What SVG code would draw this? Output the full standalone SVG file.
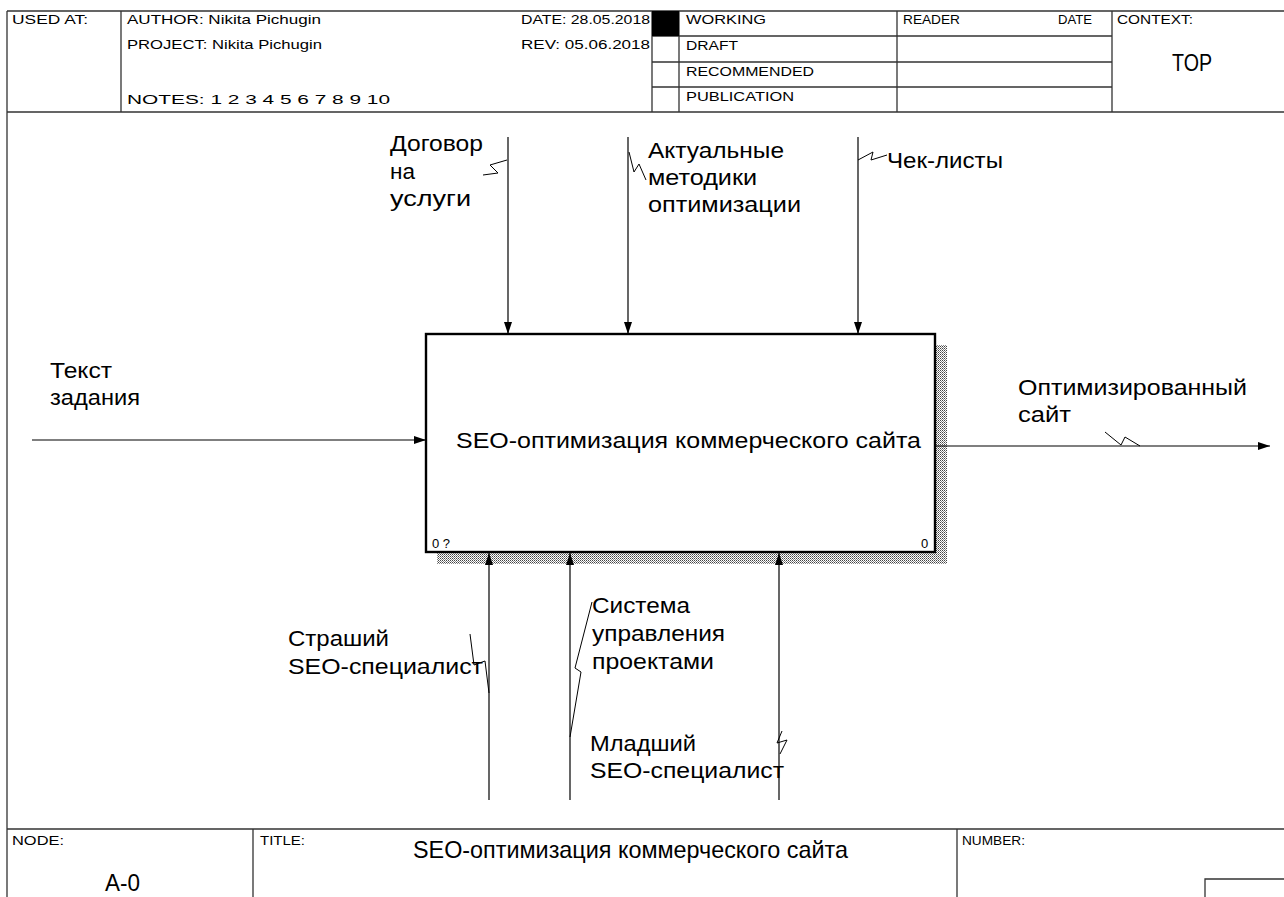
<svg xmlns="http://www.w3.org/2000/svg" width="1284" height="897" viewBox="0 0 1284 897">
  <style>
    .frame { fill: none; stroke: #333; stroke-width: 1.3; }
    .hdr { font-family: "Liberation Sans", Arial, sans-serif; font-size: 13px; fill: #000; }
    .lbl { font-family: "Liberation Sans", Arial, sans-serif; font-size: 22.5px; fill: #000; }
    .big { font-family: "Liberation Sans", Arial, sans-serif; font-size: 24px; fill: #000; }
    .num { font-family: "Liberation Sans", Arial, sans-serif; font-size: 13px; fill: #000; }
    .arrow { fill: none; stroke: #000; stroke-width: 1.2; }
    .sq { fill: none; stroke: #000; stroke-width: 1; }
    .box { fill: #fff; stroke: #000; stroke-width: 2.4; }
  </style>
  <defs>
    <marker id="ah" viewBox="0 0 12 8" refX="12" refY="4" markerWidth="12" markerHeight="8" markerUnits="userSpaceOnUse" orient="auto">
      <path d="M0,0 L12,4 L0,8 Z" fill="#000"/>
    </marker>
    <pattern id="dots" width="2" height="2" patternUnits="userSpaceOnUse">
      <rect width="2" height="2" fill="#fff"/>
      <rect width="1" height="1" fill="#444"/>
      <rect x="1" y="1" width="1" height="1" fill="#888"/>
    </pattern>
  </defs>

  <rect width="1284" height="897" fill="#fff"/>

  <!-- Header form -->
  <g id="header">
    <path class="frame" d="M7,11 H1290 M7,11 V897 M121,11 V112 M652,11 V112 M679,11 V112 M897,11 V112 M1112,11 V112 M7,112 H1290 M679,36 H1112 M652,36 H679 M652,62 H1112 M652,87 H1112"/>
    <rect x="652" y="11" width="27" height="25" fill="#000"/>
    <text class="hdr" x="12" y="24" textLength="76" lengthAdjust="spacingAndGlyphs">USED AT:</text>
    <text class="hdr" x="127" y="24" textLength="194" lengthAdjust="spacingAndGlyphs">AUTHOR:  Nikita Pichugin</text>
    <text class="hdr" x="127" y="49" textLength="195" lengthAdjust="spacingAndGlyphs">PROJECT:    Nikita Pichugin</text>
    <text class="hdr" x="127" y="104" textLength="263" lengthAdjust="spacingAndGlyphs">NOTES:  1  2  3  4  5  6  7  8  9  10</text>
    <text class="hdr" x="521" y="24" textLength="129" lengthAdjust="spacingAndGlyphs">DATE: 28.05.2018</text>
    <text class="hdr" x="521" y="49" textLength="129" lengthAdjust="spacingAndGlyphs">REV:  05.06.2018</text>
    <text class="hdr" x="686" y="24" textLength="80" lengthAdjust="spacingAndGlyphs">WORKING</text>
    <text class="hdr" x="686" y="50" textLength="52" lengthAdjust="spacingAndGlyphs">DRAFT</text>
    <text class="hdr" x="686" y="76" textLength="128" lengthAdjust="spacingAndGlyphs">RECOMMENDED</text>
    <text class="hdr" x="686" y="101" textLength="108" lengthAdjust="spacingAndGlyphs">PUBLICATION</text>
    <text class="hdr" x="903" y="24" textLength="57" lengthAdjust="spacingAndGlyphs">READER</text>
    <text class="hdr" x="1058" y="24" textLength="34" lengthAdjust="spacingAndGlyphs">DATE</text>
    <text class="hdr" x="1117" y="24" textLength="76" lengthAdjust="spacingAndGlyphs">CONTEXT:</text>
    <text class="big" x="1172" y="71" textLength="40" lengthAdjust="spacingAndGlyphs">TOP</text>
  </g>

  <!-- Footer form -->
  <g id="footer">
    <path class="frame" d="M7,829 H1290 M253,829 V897 M957,829 V897 M1205,897 V879 H1290"/>
    <text class="hdr" x="12" y="845" textLength="52" lengthAdjust="spacingAndGlyphs">NODE:</text>
    <text class="big" x="105" y="891" textLength="35" lengthAdjust="spacingAndGlyphs">A-0</text>
    <text class="hdr" x="260" y="845" textLength="45" lengthAdjust="spacingAndGlyphs">TITLE:</text>
    <text class="big" x="413" y="858" textLength="435" lengthAdjust="spacingAndGlyphs">SEO-оптимизация коммерческого сайта</text>
    <text class="hdr" x="962" y="845" textLength="63" lengthAdjust="spacingAndGlyphs">NUMBER:</text>
  </g>

  <!-- Activity A0 -->
  <g id="node-A0">
    <rect x="437" y="345" width="510" height="219" fill="url(#dots)"/>
    <rect class="box" x="426" y="334" width="509" height="218"/>
    <text class="lbl" x="456" y="448" textLength="465" lengthAdjust="spacingAndGlyphs">SEO-оптимизация коммерческого сайта</text>
    <text class="num" x="432" y="548">0 ?</text>
    <text class="num" x="921" y="548">0</text>
  </g>

  <!-- Connectors -->
  <g id="connectors">
    <!-- input -->
    <path class="arrow" d="M32,440 H426" marker-end="url(#ah)"/>
    <!-- controls -->
    <path class="arrow" d="M508,137 V334" marker-end="url(#ah)"/>
    <path class="arrow" d="M628,137 V334" marker-end="url(#ah)"/>
    <path class="arrow" d="M858,137 V334" marker-end="url(#ah)"/>
    <!-- output -->
    <path class="arrow" d="M935,446 H1270" marker-end="url(#ah)"/>
    <!-- mechanisms -->
    <path class="arrow" d="M489,800 V553" marker-end="url(#ah)"/>
    <path class="arrow" d="M570,800 V553" marker-end="url(#ah)"/>
    <path class="arrow" d="M779,800 V553" marker-end="url(#ah)"/>

    <!-- label leaders -->
    <path class="sq" d="M507,160 L490,165 L498,173 L483,175"/>
    <path class="sq" d="M629,152 L634,172 L639,164 L646,180"/>
    <path class="sq" d="M858,160 L873,152 L871,160 L887,155"/>
    <path class="sq" d="M1105,432 L1121,445 L1125,437 L1140,446"/>
    <path class="sq" d="M470,634 L474,665 L485,661 L489,693"/>
    <path class="sq" d="M592,602 L575,668 L581,672 L570,737"/>
    <path class="sq" d="M782,731 L777,743 L787,740 L780,754"/>
  </g>

  <!-- Arrow labels -->
  <g id="labels">
    <text class="lbl" x="390" y="151" textLength="93" lengthAdjust="spacingAndGlyphs">Договор</text>
    <text class="lbl" x="390" y="179" textLength="25" lengthAdjust="spacingAndGlyphs">на</text>
    <text class="lbl" x="390" y="206" textLength="81" lengthAdjust="spacingAndGlyphs">услуги</text>

    <text class="lbl" x="648" y="158" textLength="136" lengthAdjust="spacingAndGlyphs">Актуальные</text>
    <text class="lbl" x="648" y="185" textLength="109" lengthAdjust="spacingAndGlyphs">методики</text>
    <text class="lbl" x="648" y="212" textLength="153" lengthAdjust="spacingAndGlyphs">оптимизации</text>

    <text class="lbl" x="887" y="168" textLength="116" lengthAdjust="spacingAndGlyphs">Чек-листы</text>

    <text class="lbl" x="50" y="378" textLength="62" lengthAdjust="spacingAndGlyphs">Текст</text>
    <text class="lbl" x="50" y="405" textLength="90" lengthAdjust="spacingAndGlyphs">задания</text>

    <text class="lbl" x="1018" y="395" textLength="229" lengthAdjust="spacingAndGlyphs">Оптимизированный</text>
    <text class="lbl" x="1018" y="422" textLength="53" lengthAdjust="spacingAndGlyphs">сайт</text>

    <text class="lbl" x="288" y="646" textLength="101" lengthAdjust="spacingAndGlyphs">Страший</text>
    <text class="lbl" x="288" y="674" textLength="195" lengthAdjust="spacingAndGlyphs">SEO-специалист</text>

    <text class="lbl" x="592" y="613" textLength="98" lengthAdjust="spacingAndGlyphs">Система</text>
    <text class="lbl" x="592" y="641" textLength="133" lengthAdjust="spacingAndGlyphs">управления</text>
    <text class="lbl" x="592" y="669" textLength="122" lengthAdjust="spacingAndGlyphs">проектами</text>

    <text class="lbl" x="590" y="751" textLength="106" lengthAdjust="spacingAndGlyphs">Младший</text>
    <text class="lbl" x="590" y="778" textLength="194" lengthAdjust="spacingAndGlyphs">SEO-специалист</text>
  </g>
</svg>
